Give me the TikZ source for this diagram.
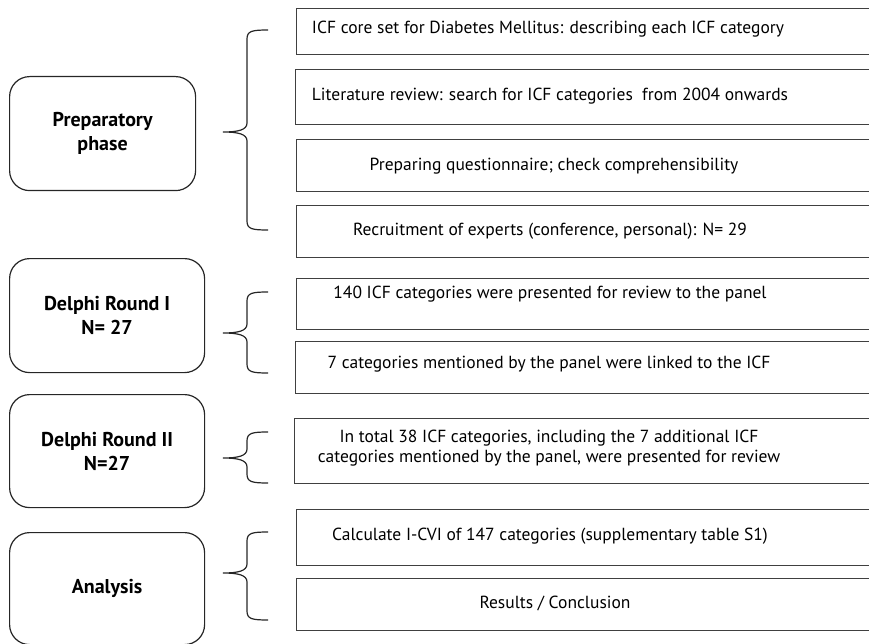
\documentclass[tikz,border=0pt]{standalone}
\usepackage{fontspec}
\setmainfont{PT Sans}
\begin{document}
\begin{tikzpicture}[x=1pt,y=-1pt,
  phase/.style={draw=black!85, line width=1.2pt, rounded corners=20pt, anchor=north west,
    inner sep=0pt, minimum width=#1, align=center,
    font=\fontsize{20}{24}\selectfont\bfseries},
  stepbox/.style={draw=black!75, line width=1.2pt, anchor=north west, inner sep=0pt,
    minimum width=620pt},
  txt/.style={font=\fontsize{17.5}{19.5}\selectfont, align=center, inner sep=0pt},
  bracel/.style={draw=black!85, line width=1.2pt}]
\useasboundingbox (0,0) rectangle (869,644);
\clip (0,0) rectangle (869,644);

% left phase boxes
\node[phase=186pt, minimum height=114pt] (p1) at (9,76) {Preparatory\\phase};
\node[phase=195pt, minimum height=114pt] (p2) at (9,258) {Delphi Round I\\N= 27};
\node[phase=195pt, minimum height=113pt] (p3) at (9,394) {Delphi Round II\\N=27};
\node[phase=195pt, minimum height=112pt] (p4) at (9,532) {Analysis};

% right boxes
\node[stepbox, minimum height=46pt] (b1) at (296,8) {};
\node[stepbox, minimum height=55pt] (b2) at (295,69) {};
\node[stepbox, minimum height=52pt] (b3) at (296,139) {};
\node[stepbox, minimum height=52pt] (b4) at (296,205) {};
\node[stepbox, minimum height=51pt] (b5) at (296,278) {};
\node[stepbox, minimum height=52pt] (b6) at (295,341) {};
\node[stepbox, minimum height=65pt] (b7) at (294,418) {};
\node[stepbox, minimum height=56pt] (b8) at (296,509) {};
\node[stepbox, minimum height=52pt] (b9) at (296,578) {};

\node[txt] (t1) at (548,29) {ICF core set for Diabetes Mellitus: describing each ICF category};
\node[txt] (t2) at (550,96) {Literature review: search for ICF categories\ \ from 2004 onwards};
\node[txt] (t3) at (554,166) {Preparing questionnaire; check comprehensibility};
\node[txt] (t4) at (550,231) {Recruitment of experts (conference, personal): N= 29};
\node[txt] (t5) at (550,294) {140 ICF categories were presented for review to the panel};
\node[txt] (t6) at (549,364) {7 categories mentioned by the panel were linked to the ICF};
\node[txt] (t7) at (549,448) {In total 38 ICF categories, including the 7 additional ICF\\categories mentioned by the panel, were presented for review};
\node[txt] (t8) at (550,536) {Calculate I-CVI of 147 categories (supplementary table S1)};
\node[txt] (t9) at (555,603) {Results / Conclusion};

% braces
\newcommand{\mybrace}[3]{%
  \draw[bracel] (268,#1) .. controls (252,#1) and (247,#1+1) .. (247,#1+9)
    -- (247,#2-9) .. controls (247,#2-2) and (238,#2) .. (223,#2)
    .. controls (238,#2) and (247,#2+2) .. (247,#2+9)
    -- (247,#3-9) .. controls (247,#3-1) and (252,#3) .. (268,#3);}
\mybrace{30}{132}{230}
\mybrace{292}{333}{373}
\mybrace{432}{458}{483}
\mybrace{532}{573}{620}
\end{tikzpicture}
\end{document}
